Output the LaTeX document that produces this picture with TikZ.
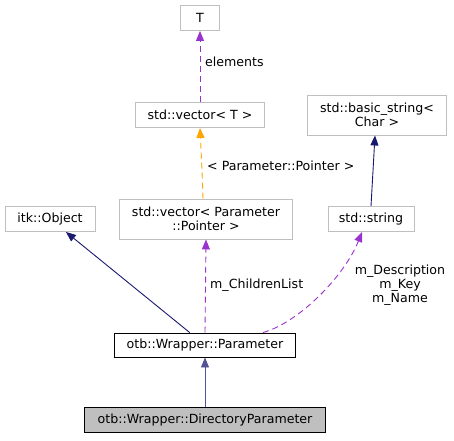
\documentclass[tikz,border=0pt]{standalone}
\usepackage{fontspec}
\setmainfont{DejaVu Sans}
\usetikzlibrary{positioning, arrows.meta, calc}

\definecolor{usepurple}{HTML}{9A32CD}
\definecolor{tmplorange}{HTML}{FFA500}
\definecolor{inhblue}{HTML}{191970}
\definecolor{boxgray}{HTML}{BFBFBF}

\begin{document}
\begin{tikzpicture}[
  x=1pt, y=-1pt,
  every node/.style={font=\fontsize{12.6}{14}\selectfont, align=center, inner sep=0pt},
  classbox/.style={draw=boxgray, line width=0.9pt, minimum height=25pt},
  mainbox/.style={draw=black, line width=0.9pt, minimum height=24pt},
  inherit/.style={draw=inhblue, line width=0.9pt, -{Triangle[length=10pt,width=8pt]}},
  usage/.style={draw=usepurple, line width=0.9pt, dash pattern=on 6pt off 4pt, -{Triangle[length=10pt,width=8pt]}},
  tmpl/.style={draw=tmplorange, line width=0.9pt, dash pattern=on 6pt off 4pt, -{Triangle[length=10pt,width=8pt]}}
]
\useasboundingbox (0,0) rectangle (454,440);

\node (tT) at (200,18) [classbox, minimum width=39pt] {T};
\node (vecT) at (200,115) [classbox, minimum width=129pt] {std::vector< T >};
\node (bstr) at (377,115) [classbox, minimum width=139pt, minimum height=40pt] {std::basic\_string<\\Char >};
\node (itk) at (50,219) [classbox, minimum width=90pt] {itk::Object};
\node (pvec) at (206,219) [classbox, minimum width=173pt, minimum height=40pt] {std::vector< Parameter\\::Pointer >};
\node (str) at (371,219) [classbox, minimum width=86pt] {std::string};
\node (par) at (205,345) [mainbox, minimum width=181pt] {otb::Wrapper::Parameter};
\node (dir) at (205,420) [mainbox, fill=boxgray, minimum width=241pt, minimum height=25pt] {otb::Wrapper::DirectoryParameter};

\draw[usage] (vecT) -- (tT);
\node[anchor=west] at (205,62) {elements};

\draw[tmpl] ($(pvec.north)+(-3,0)$) .. controls (202,170) .. (vecT.south);
\node[anchor=west] at (207,166) {< Parameter::Pointer >};

\draw[inherit] (str.north) -- ($(bstr.south)+(-2,0)$);
\draw[inherit] (par) -- (itk);

\draw[usage] (par.north) -- (pvec.south);
\node[anchor=west] at (210,285) {m\_ChildrenList};

\draw[usage] ($(par.north)+(58,0)$) .. controls (300,322) and (345,275) .. ($(str.south)+(-9,0)$);
\node at (400,285) {m\_Description\\m\_Key\\m\_Name};

\draw[inherit, draw=inhblue!75] (dir) -- (par);
\end{tikzpicture}
\end{document}
